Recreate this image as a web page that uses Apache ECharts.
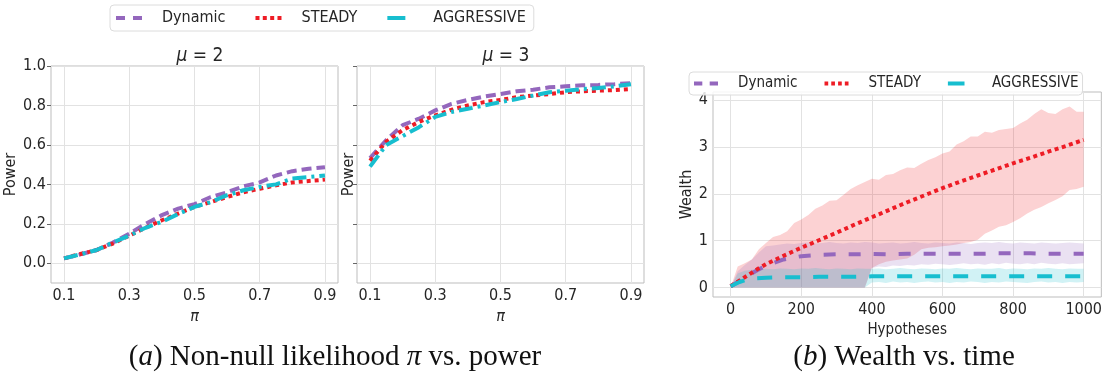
<!DOCTYPE html>
<html><head><meta charset="utf-8">
<script src="https://cdn.jsdelivr.net/npm/echarts@6/dist/echarts.min.js"></script>
<style>html,body{margin:0;padding:0;background:#fff}#c{width:1105px;height:373px}</style>
</head><body><div id="c"></div>
<script>
// ---------- data ----------
const seriesNames = ['Dynamic', 'STEADY', 'AGGRESSIVE'];
const piValues = [0.1,0.15,0.2,0.25,0.3,0.35,0.4,0.45,0.5,0.55,0.6,0.65,0.7,0.75,0.8,0.85,0.9];
const piTicks = [0.1,0.3,0.5,0.7,0.9];
const powerTicks = [0,0.2,0.4,0.6,0.8,1.0];
// mu = 2
const mu2Dynamic    = [0.025,0.045,0.067,0.105,0.15,0.2,0.244,0.277,0.3,0.336,0.36,0.39,0.41,0.445,0.467,0.479,0.487];
const mu2Steady     = [0.025,0.047,0.067,0.1,0.14,0.18,0.218,0.252,0.286,0.31,0.336,0.36,0.378,0.395,0.41,0.417,0.424];
const mu2Aggressive = [0.025,0.045,0.067,0.105,0.14,0.18,0.21,0.25,0.286,0.31,0.345,0.37,0.387,0.4,0.43,0.437,0.445];
// mu = 3
const mu3Dynamic    = [0.533,0.625,0.7,0.733,0.775,0.808,0.828,0.845,0.858,0.872,0.88,0.892,0.897,0.902,0.904,0.908,0.913];
const mu3Steady     = [0.52,0.617,0.675,0.717,0.75,0.778,0.8,0.817,0.828,0.842,0.85,0.858,0.867,0.872,0.875,0.878,0.883];
const mu3Aggressive = [0.49,0.6,0.645,0.69,0.742,0.767,0.783,0.8,0.817,0.833,0.85,0.867,0.875,0.883,0.888,0.897,0.908];
// wealth vs time: mean lines
const meanHyp = [0,25,50,75,100,150,200,250,300,350,400,450,500,550,600,650,700,750,800,850,900,950,1000];
const wealthSteady     = [0.03,0.15,0.27,0.39,0.5,0.68,0.85,1.01,1.17,1.34,1.5,1.66,1.82,1.97,2.12,2.26,2.39,2.52,2.65,2.77,2.9,3.02,3.15];
const wealthDynamic    = [0.03,0.14,0.26,0.37,0.47,0.6,0.67,0.7,0.71,0.71,0.72,0.71,0.72,0.72,0.72,0.72,0.72,0.73,0.73,0.73,0.72,0.72,0.72];
const wealthAggressive = [0.03,0.12,0.18,0.2,0.21,0.22,0.22,0.23,0.23,0.23,0.24,0.24,0.24,0.24,0.24,0.24,0.24,0.24,0.24,0.24,0.24,0.24,0.24];
// wealth vs time: bands
const bandHyp = [0,20,40,60,80,100,120,140,160,180,200,220,240,260,280,300,320,340,360,380,400,420,440,460,480,500,520,540,560,580,600,620,640,660,680,700,720,740,760,780,800,820,840,860,880,900,920,940,960,980,1000];
const steadyHi = [0,0.45,0.52,0.6,0.82,0.95,1.08,1.12,1.2,1.38,1.45,1.55,1.68,1.75,1.85,1.86,1.98,2.1,2.18,2.25,2.32,2.3,2.4,2.42,2.5,2.56,2.55,2.64,2.72,2.78,2.86,2.9,3.05,3.12,3.22,3.22,3.32,3.3,3.36,3.38,3.4,3.5,3.58,3.7,3.8,3.72,3.7,3.8,3.86,3.75,3.75];
const steadyLo = [0,0,0,0,0,0,0,0,0,0,0,0,0,0,0,0,0,0,0,0,0.42,0.5,0.55,0.58,0.6,0.62,0.7,0.82,0.85,0.86,0.88,0.9,0.92,0.95,0.97,1.02,1.15,1.22,1.3,1.33,1.4,1.48,1.58,1.66,1.72,1.8,1.87,1.95,2.08,2.1,2.15];
const dynamicHi = [0,0.35,0.48,0.6,0.75,0.88,0.9,0.92,0.94,0.93,0.95,0.96,0.94,0.95,0.97,0.95,0.94,0.96,0.95,0.97,0.96,0.94,0.95,0.96,0.94,0.95,0.97,0.95,0.94,0.96,0.95,0.94,0.96,0.95,0.93,0.95,0.96,0.95,0.97,0.95,0.94,0.96,0.95,0.94,0.96,0.95,0.94,0.95,0.96,0.95,0.94];
const dynamicLo = [0,0,0,0,0,0,0,0,0,0,0,0,0,0,0,0,0,0,0,0,0.42,0.45,0.44,0.47,0.46,0.48,0.47,0.5,0.49,0.51,0.5,0.48,0.5,0.52,0.5,0.51,0.49,0.52,0.5,0.53,0.51,0.5,0.52,0.5,0.53,0.51,0.5,0.52,0.5,0.51,0.52];
const aggressiveHi = [0,0.3,0.36,0.38,0.39,0.4,0.39,0.41,0.4,0.39,0.41,0.4,0.42,0.4,0.39,0.41,0.4,0.39,0.41,0.4,0.4,0.41,0.39,0.4,0.42,0.4,0.39,0.41,0.4,0.39,0.41,0.4,0.42,0.4,0.39,0.41,0.4,0.4,0.42,0.39,0.41,0.4,0.39,0.41,0.4,0.42,0.4,0.39,0.41,0.4,0.4];
const aggressiveLo = [0,0,0,0,0,0,0,0,0,0,0,0,0,0,0,0,0,0,0,0,0.11,0.12,0.1,0.13,0.11,0.12,0.1,0.12,0.13,0.11,0.12,0.1,0.12,0.11,0.13,0.12,0.1,0.12,0.11,0.13,0.12,0.11,0.1,0.12,0.13,0.11,0.12,0.1,0.12,0.11,0.12];
const hypTicks = [0,200,400,600,800,1000];
const wealthTicks = [0,1,2,3,4];

// ---------- styles ----------
const COLORS = {Dynamic:'#9467bd', STEADY:'#ee1c25', AGGRESSIVE:'#17becf'};
const FONT = "'DejaVu Sans Condensed','DejaVu Sans',sans-serif";
const SERIF = "'Liberation Serif',serif";
const TXT = '#262626';
const leftDash = {Dynamic:[10,5], STEADY:[4,4], AGGRESSIVE:[14,5,3,5]};
const rightDash = {Dynamic:[12,13], STEADY:[4,3.5], AGGRESSIVE:[15,13]};
// legend glyphs (26 x 4 box) imitating each line style
const LEGEND_ICONS = {
  Dynamic: 'path://M0,0H9V4H0Z M17,0H26V4H17Z',
  STEADY: 'path://M0,0H4V4H0Z M7.3,0H11.3V4H7.3Z M14.7,0H18.7V4H14.7Z M22,0H26V4H22Z',
  AGGRESSIVE: 'path://M0,0H18V4H0Z M25.95,1.95H26V2.05H25.95Z'
};

const zip = (xs, ys) => xs.map((x, i) => [x, ys[i]]);

function gridLines(xs, ys) {
  return {
    silent: true, symbol: ['none','none'], z: 1, animation: false,
    label: {show: false},
    lineStyle: {color: '#e2e2e2', width: 1, type: 'solid'},
    emphasis: {disabled: true},
    data: xs.map(v => ({xAxis: v})).concat(ys.map(v => ({yAxis: v})))
  };
}

function lineSeries(name, idx, data, dash, withGrid) {
  const s = {
    name, type: 'line', xAxisIndex: idx, yAxisIndex: idx, data,
    showSymbol: false, symbol: 'none', z: 3, animation: false,
    lineStyle: {color: COLORS[name], width: 4, type: dash, cap: 'butt'},
    itemStyle: {color: COLORS[name]}
  };
  if (withGrid) s.markLine = withGrid;
  return s;
}

// band between lo and hi, drawn as one polygon through the axis scales
function bandSeries(name, lo, hi) {
  const data = bandHyp.map((x, i) => [x, lo[i], hi[i]]);
  return {
    name: name + ' band', type: 'custom', xAxisIndex: 2, yAxisIndex: 2,
    data, z: 2, silent: true, animation: false,
    encode: {x: 0, y: [1, 2]},
    renderItem: function (params, api) {
      if (params.dataIndex !== 0) return null;
      const top = data.map(d => api.coord([d[0], d[2]]));
      const bot = data.map(d => api.coord([d[0], d[1]])).reverse();
      return {
        type: 'polygon',
        shape: {points: top.concat(bot)},
        style: {fill: COLORS[name], opacity: 0.2, stroke: null}
      };
    }
  };
}

function valueAxis(gi, min, max, ticks, fmt, showLabels, extra) {
  return Object.assign({
    gridIndex: gi, type: 'value', min, max,
    axisLine: {show: false},
    splitLine: {show: false},
    axisTick: {show: true, customValues: ticks, length: 4, lineStyle: {color: '#666', width: 1}},
    axisLabel: {show: showLabels, customValues: ticks, formatter: fmt, fontSize: 16, fontFamily: FONT, color: TXT, margin: 5}
  }, extra || {});
}

const nameStyle = {fontSize: 16, fontFamily: FONT, color: TXT};
const titleStyle = {fontSize: 19, fontWeight: 'normal', fontFamily: FONT, color: TXT,
  rich: {i: {fontStyle: 'italic', fontSize: 19, fontFamily: FONT, color: TXT}}};
const captionStyle = {fontSize: 29, fontWeight: 'normal', fontFamily: SERIF, color: '#111',
  rich: {i: {fontStyle: 'italic', fontSize: 29, fontFamily: SERIF, color: '#111'}}};

const legendData = seriesNames.map(n => ({name: n, icon: LEGEND_ICONS[n], itemStyle: {color: COLORS[n]}}));

const option = {
  backgroundColor: '#fff',
  animation: false,
  textStyle: {fontFamily: FONT},
  grid: [
    {left: 51, top: 66, width: 287, height: 217, show: true, borderColor: '#bdbdbd', borderWidth: 1, backgroundColor: '#fff'},
    {left: 357, top: 66, width: 287, height: 217, show: true, borderColor: '#bdbdbd', borderWidth: 1, backgroundColor: '#fff'},
    {left: 713, top: 92, width: 390, height: 205, show: true, borderColor: '#bdbdbd', borderWidth: 1, backgroundColor: '#fff'}
  ],
  title: [
    {text: '{i|μ} = 2', left: 195, top: 42, textAlign: 'center', textStyle: titleStyle},
    {text: '{i|μ} = 3', left: 501, top: 42, textAlign: 'center', textStyle: titleStyle},
    {text: '({i|a}) Non-null likelihood {i|π} vs. power', left: 330, top: 338, textAlign: 'center', textStyle: captionStyle},
    {text: '({i|b}) Wealth vs. time', left: 899, top: 338, textAlign: 'center', textStyle: captionStyle}
  ],
  legend: [
    {data: legendData, left: 110, top: 5, orient: 'horizontal', symbolKeepAspect: false,
     itemWidth: 26, itemHeight: 4, itemGap: 30, padding: [5, 8, 5, 6],
     borderColor: '#dcdcdc', borderWidth: 1, borderRadius: 4, backgroundColor: '#fff',
     selectedMode: false,
     textStyle: {fontSize: 16, fontFamily: FONT, color: TXT, padding: [0, 0, 0, 15]}},
    {data: legendData, left: 689, top: 72, orient: 'horizontal', symbolKeepAspect: false,
     itemWidth: 24, itemHeight: 4, itemGap: 27, padding: [4, 4, 4, 5],
     borderColor: '#dcdcdc', borderWidth: 1, borderRadius: 4, backgroundColor: 'rgba(255,255,255,0.85)',
     selectedMode: false, z: 10,
     textStyle: {fontSize: 15, fontFamily: FONT, color: TXT, padding: [0, 0, 0, 15]}}
  ],
  xAxis: [
    valueAxis(0, 0.06, 0.94, piTicks, v => v.toFixed(1), true,
      {name: 'π', nameLocation: 'middle', nameGap: 15, nameTextStyle: Object.assign({}, nameStyle, {fontStyle: 'italic'})}),
    valueAxis(1, 0.06, 0.94, piTicks, v => v.toFixed(1), true,
      {name: 'π', nameLocation: 'middle', nameGap: 15, nameTextStyle: Object.assign({}, nameStyle, {fontStyle: 'italic'})}),
    valueAxis(2, -50, 1050, hypTicks, v => String(v), true,
      {name: 'Hypotheses', nameLocation: 'middle', nameGap: 17, nameTextStyle: Object.assign({}, nameStyle, {fontSize: 15})})
  ],
  yAxis: [
    valueAxis(0, -0.1, 1.0, powerTicks, v => v.toFixed(1), true,
      {name: 'Power', nameLocation: 'middle', nameGap: 22, nameTextStyle: nameStyle}),
    valueAxis(1, -0.1, 1.0, powerTicks, v => v.toFixed(1), false,
      {name: 'Power', nameLocation: 'middle', nameGap: 0, nameTextStyle: nameStyle}),
    valueAxis(2, -0.2, 4.17, wealthTicks, v => String(v), true,
      {name: 'Wealth', nameLocation: 'middle', nameGap: 9, nameTextStyle: nameStyle})
  ],
  series: [
    lineSeries('Dynamic', 0, zip(piValues, mu2Dynamic), leftDash.Dynamic, gridLines(piTicks, powerTicks)),
    lineSeries('STEADY', 0, zip(piValues, mu2Steady), leftDash.STEADY),
    lineSeries('AGGRESSIVE', 0, zip(piValues, mu2Aggressive), leftDash.AGGRESSIVE),
    lineSeries('Dynamic', 1, zip(piValues, mu3Dynamic), leftDash.Dynamic, gridLines(piTicks, powerTicks)),
    lineSeries('STEADY', 1, zip(piValues, mu3Steady), leftDash.STEADY),
    lineSeries('AGGRESSIVE', 1, zip(piValues, mu3Aggressive), leftDash.AGGRESSIVE),
    bandSeries('STEADY', steadyLo, steadyHi),
    bandSeries('Dynamic', dynamicLo, dynamicHi),
    bandSeries('AGGRESSIVE', aggressiveLo, aggressiveHi),
    lineSeries('Dynamic', 2, zip(meanHyp, wealthDynamic), rightDash.Dynamic, gridLines(hypTicks, wealthTicks)),
    lineSeries('STEADY', 2, zip(meanHyp, wealthSteady), rightDash.STEADY),
    lineSeries('AGGRESSIVE', 2, zip(meanHyp, wealthAggressive), rightDash.AGGRESSIVE)
  ]
};

const chart = echarts.init(document.getElementById('c'), null, {renderer: 'canvas'});
chart.setOption(option);
</script>
</body></html>
